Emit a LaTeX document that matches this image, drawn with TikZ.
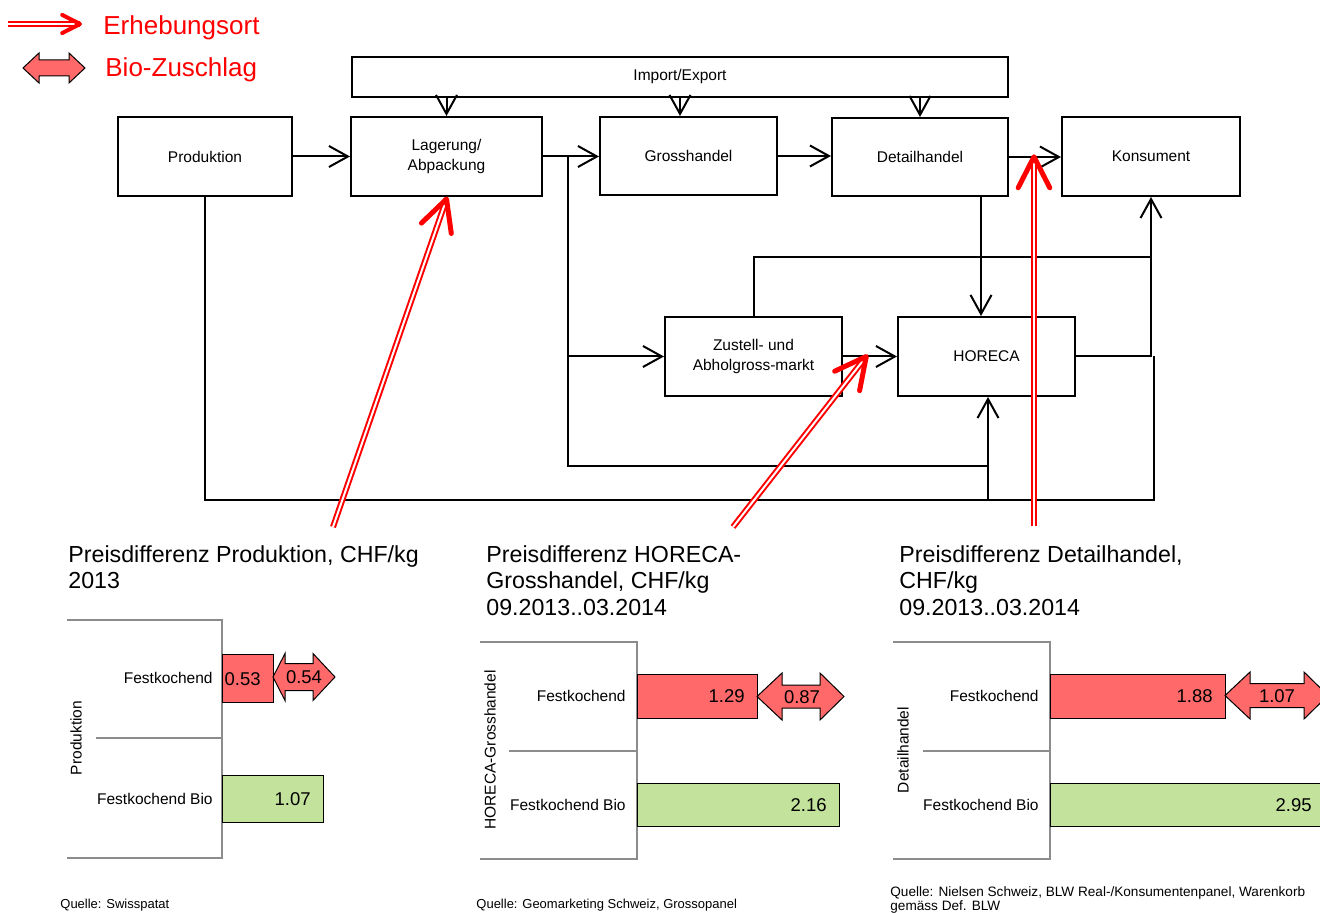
\documentclass[tikz,border=0pt]{standalone}
\usepackage{fontspec}
\setmainfont{Liberation Sans}
\usetikzlibrary{arrows.meta,calc}
\definecolor{barred}{RGB}{255,105,105}
\definecolor{bargreen}{RGB}{195,226,155}
\definecolor{axisgray}{RGB}{140,140,140}
\newcommand\bioarrow[7]{%
  \draw[fill=barred, draw=black, line width=0.5pt]
    (#1,#5) -- (#2,#5-#6) -- (#2,#5-#7) -- (#3,#5-#7) -- (#3,#5-#6) -- (#4,#5)
    -- (#3,#5+#6) -- (#3,#5+#7) -- (#2,#5+#7) -- (#2,#5+#6) -- cycle;}
\tikzset{
  box/.style={draw=black, line width=1pt, fill=white, inner sep=0pt, align=center,
    font=\fontsize{7.75}{9.75}\selectfont},
  conn/.style={line width=1pt, -{Straight Barb[length=9.5pt,width=10.5pt]}},
  link/.style={line width=1pt},
  erh/.style={draw=red, line width=1pt, double=white, double distance=1pt},
  ehead/.style={draw=red, line width=2.5pt, line cap=round, line join=round},
  grid/.style={draw=axisgray, line width=0.75pt},
  bar/.style={draw=black, line width=0.5pt},
  title/.style={anchor=north west, inner sep=0pt, align=left, font=\fontsize{11.6}{13.25}\selectfont},
  cat/.style={anchor=east, inner sep=0pt, font=\fontsize{7.75}{9}\selectfont},
  axl/.style={rotate=90, inner sep=0pt, font=\fontsize{7.75}{9}\selectfont},
  val/.style={inner sep=0pt, font=\fontsize{9.25}{11}\selectfont},
  src/.style={anchor=west, inner sep=0pt, align=left, font=\fontsize{6.5}{7}\selectfont},
  legend/.style={anchor=west, inner sep=0pt, text=red, font=\fontsize{13}{15}\selectfont},
}
\begin{document}
\begin{tikzpicture}[x=0.5pt,y=-0.5pt]
\useasboundingbox (0,0) rectangle (1320,913);
\clip (0,0) rectangle (1320,913);

% ---------- legend ----------
\coordinate (ls) at (8,24);
\coordinate (lt) at (80,24);
\draw[erh] (ls) -- (lt);
\draw[ehead, line width=2pt] ($(lt)!10pt!27:(ls)$) -- (lt) -- ($(lt)!10pt!-27:(ls)$);
\node[legend] (lg1) at (103,28) {Erhebungsort};
\bioarrow{23}{39}{69}{85}{68}{15}{8}
\node[legend] (lg2) at (105,70) {Bio-Zuschlag};

% ---------- flow boxes ----------
\node[box, minimum width=328pt, minimum height=20pt] (imp) at (680,77) {Import/Export};
\node[box, minimum width=87pt, minimum height=39.5pt] (prod) at (205,156.5) {Produktion};
\node[box, minimum width=95.5pt, minimum height=39.5pt] (lag) at (446.5,156.5) {Lagerung/\\Abpackung};
\node[box, minimum width=88.5pt, minimum height=39pt] (gro) at (688.5,156) {Grosshandel};
\node[box, minimum width=88pt, minimum height=39pt] (det) at (920,157) {Detailhandel};
\node[box, minimum width=89pt, minimum height=39.5pt] (kon) at (1151,156.5) {Konsument};
\node[box, minimum width=88.5pt, minimum height=39.5pt] (zus) at (753.5,356.5) {Zustell- und\\Abholgross-markt};
\node[box, minimum width=88.5pt, minimum height=39.5pt] (hor) at (986.5,356.5) {HORECA};

% ---------- connectors ----------
\draw[conn] (imp.south -| lag.north) -- (lag.north);
\coordinate (gN) at ([xshift=-4.25pt]gro.north);
\draw[conn] (imp.south -| gN) -- (gN);
\draw[conn] (imp.south -| det.north) -- (det.north);
\draw[conn] (prod.east) -- (prod.east -| lag.west);
\draw[conn] (lag.east) -- (lag.east -| gro.west);
\draw[conn] (gro.east) -- (gro.east -| det.west);
\draw[conn] (det.east) -- (det.east -| kon.west);
\coordinate (hN) at ([xshift=-2.75pt]hor.north);
\draw[conn] (det.south -| hN) -- (hN);

\coordinate (b1) at (568,156.5);
\coordinate (j1) at (568,466);
\coordinate (hS) at ([xshift=0.75pt]hor.south);
\draw[conn] (b1) |- (zus.west);
\draw[conn] (b1) -- (j1) -| (hS);

\coordinate (yb) at (0,500);
\coordinate (pe) at (1154,500);
\coordinate (pj) at (1154,356.5);
\draw[link] (prod.south) -- (prod.south |- yb) -- (pe) -- (pj);
\draw[link] (hS |- j1) -- (hS |- yb);

\coordinate (yk) at (0,257);
\draw[conn] (zus.north) |- (kon.south |- yk) -- (kon.south);
\draw[link] (hor.east) -| (kon.south |- yk);
\draw[conn] (zus.east) -- (hor.west);

% ---------- Erhebungsort arrows ----------
\coordinate (t1) at ([yshift=-1pt]lag.south);
\coordinate (s1) at (333,527);
\draw[erh] (s1) -- (t1);
\draw[ehead] ($(t1)!17.4pt!27:(s1)$) -- (t1) -- ($(t1)!17.4pt!-27:(s1)$);

\coordinate (t2) at ($(zus.east)!0.43!(hor.west)$);
\coordinate (s2) at (733,527);
\draw[erh] (s2) -- (t2);
\draw[ehead] ($(t2)!17.4pt!27:(s2)$) -- (t2) -- ($(t2)!17.4pt!-27:(s2)$);

\coordinate (t3) at ($(det.east)!0.48!(kon.west)$);
\coordinate (s3) at ($(t3)+(0,369)$);
\draw[erh] (s3) -- (t3);
\draw[ehead] ($(t3)!17.4pt!27:(s3)$) -- (t3) -- ($(t3)!17.4pt!-27:(s3)$);

% ---------- chart 1 ----------
\node[title] (ti1) at (68,545) {Preisdifferenz Produktion, CHF/kg\\2013};
\draw[grid] (67,620) -| (222,858) -- (67,858);
\draw[grid] (96,738) -- (222,738);
\draw[bar, fill=barred] (222,654) rectangle (273,702);
\draw[bar, fill=bargreen] (222,775) rectangle (323,822);
\bioarrow{273}{285}{313}{335}{677}{23.5}{13.5}
\node[cat] (c1a) at (213,678) {Festkochend};
\node[cat] (c1b) at (213,799) {Festkochend Bio};
\node[axl] (a1) at (76,738) {Produktion};
\node[val, anchor=east] (v1a) at (261,679) {0.53};
\node[val] (v1d) at (304,677) {0.54};
\node[val, anchor=east] (v1b) at (311,799) {1.07};
\node[src] (q1) at (60,905) {Quelle: Swisspatat};

% ---------- chart 2 ----------
\node[title] (ti2) at (486,545) {Preisdifferenz HORECA-\\Grosshandel, CHF/kg\\09.2013..03.2014};
\draw[grid] (480,642) -| (637,859) -- (480,859);
\draw[grid] (509,751) -- (637,751);
\draw[bar, fill=barred] (637,674) rectangle (757,718);
\draw[bar, fill=bargreen] (637,783) rectangle (839,826);
\bioarrow{757}{782}{820}{844}{696.5}{23.5}{11.5}
\node[cat] (c2a) at (626,696) {Festkochend};
\node[cat] (c2b) at (626,805) {Festkochend Bio};
\node[axl] (a2) at (490,750) {HORECA-Grosshandel};
\node[val, anchor=east] (v2a) at (745,696) {1.29};
\node[val] (v2d) at (802,697) {0.87};
\node[val, anchor=east] (v2b) at (827,805) {2.16};
\node[src] (q2) at (476,905) {Quelle: Geomarketing Schweiz, Grossopanel};

% ---------- chart 3 ----------
\node[title] (ti3) at (899,545) {Preisdifferenz Detailhandel,\\CHF/kg\\09.2013..03.2014};
\draw[grid] (893,642) -| (1050,859) -- (893,859);
\draw[grid] (923,751) -- (1050,751);
\draw[bar, fill=barred] (1050,674) rectangle (1225,718);
\draw[bar, fill=bargreen] (1050,783) rectangle (1340,826);
\bioarrow{1225}{1250}{1304}{1328}{695.5}{23.5}{12}
\node[cat] (c3a) at (1039,696) {Festkochend};
\node[cat] (c3b) at (1039,805) {Festkochend Bio};
\node[axl] (a3) at (903,750) {Detailhandel};
\node[val, anchor=east] (v3a) at (1213,696) {1.88};
\node[val] (v3d) at (1277,696) {1.07};
\node[val, anchor=east] (v3b) at (1312,805) {2.95};
\node[src, anchor=north west, font=\fontsize{6.8}{7}\selectfont] (q3) at (890,886) {Quelle: Nielsen Schweiz, BLW Real-/Konsumentenpanel, Warenkorb\\gemäss Def. BLW};
\end{tikzpicture}
\end{document}
